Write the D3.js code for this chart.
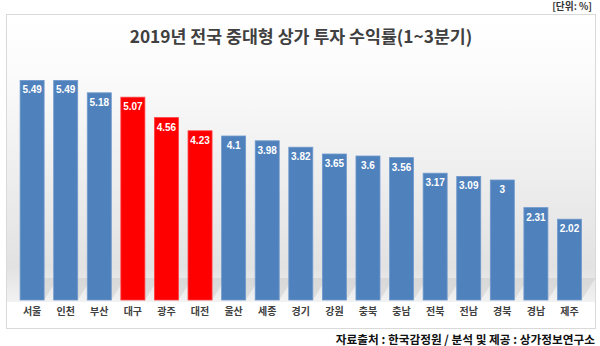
<!DOCTYPE html>
<html><head><meta charset="utf-8">
<script src="https://cdn.jsdelivr.net/npm/d3@7"></script>
<style>body{margin:0;background:#fff;}svg{display:block;font-family:"Noto Sans CJK KR","Noto Sans",sans-serif;}</style>
</head><body>
<svg id="c" width="600" height="346"></svg>
<script>
const categories = ["서울","인천","부산","대구","광주","대전","울산","세종","경기","강원","충북","충남","전북","전남","경북","경남","제주"];
const values = [5.49,5.49,5.18,5.07,4.56,4.23,4.1,3.98,3.82,3.65,3.6,3.56,3.17,3.09,3,2.31,2.02];
const highlighted = ["대구","광주","대전"];
const title = "2019년 전국 중대형 상가 투자 수익률(1~3분기)";
const unitLabel = "[단위: %]";
const sourceLabel = "자료출처 : 한국감정원 / 분석 및 제공 : 상가정보연구소";

const svg = d3.select("#c");
const defs = svg.append("defs");
const g1 = defs.append("linearGradient").attr("id","bg").attr("x1",0).attr("y1",0).attr("x2",0).attr("y2",1);
g1.append("stop").attr("offset","0%").attr("stop-color","#ffffff");
g1.append("stop").attr("offset","20%").attr("stop-color","#fbfbfb");
g1.append("stop").attr("offset","88%").attr("stop-color","#e2e2e2");
g1.append("stop").attr("offset","100%").attr("stop-color","#f2f2f2");

// panel
svg.append("rect").attr("x",6.5).attr("y",14.5).attr("width",589).attr("height",314)
  .attr("fill","#fff").attr("stroke","#d9d9d9");
svg.append("rect").attr("x",7).attr("y",15).attr("width",588).attr("height",287).attr("fill","url(#bg)");

const x = d3.scaleBand().domain(categories).range([15.3, 586.3]).paddingInner(0.285).paddingOuter(0.143);
const y = d3.scaleLinear().domain([0,6]).range([300,60]);

// shadows
svg.append("g").selectAll("path").data(values).join("path")
  .attr("d",(d,i)=>{const x0=x(categories[i]), w=x.bandwidth(), b=y(0);
     return `M${x0},${b} L${x0+w},${b} L${x0+w+14},${b-22} L${x0+14},${b-22} Z`;})
  .attr("fill","#bdbdbd").attr("opacity",0.35);

svg.append("g").selectAll("rect").data(values).join("rect")
  .attr("x",(d,i)=>x(categories[i])).attr("y",d=>y(d))
  .attr("width",x.bandwidth()).attr("height",d=>y(0)-y(d))
  .attr("fill",(d,i)=>highlighted.includes(categories[i])?"#ff0000":"#4f81bd")
  .attr("stroke",(d,i)=>highlighted.includes(categories[i])?"#ff4040":"#7099cc").attr("stroke-width",0.8);

svg.append("g").selectAll("text").data(values).join("text")
  .attr("x",(d,i)=>x(categories[i])+x.bandwidth()/2).attr("y",d=>y(d)+13)
  .attr("text-anchor","middle").attr("fill","#fff").attr("font-size",10).attr("font-weight","bold")
  .attr("font-family","Liberation Sans, Arial, sans-serif")
  .text(d=>d);

const xa = svg.append("g").attr("transform","translate(0,300)").call(d3.axisBottom(x).tickSize(0).tickPadding(8));
xa.select(".domain").remove();
xa.selectAll("text").attr("font-size",10).attr("font-weight","bold").attr("fill","#404040")
  .attr("font-family","Noto Sans CJK KR, sans-serif");

svg.append("text").attr("x",301).attr("y",43).attr("text-anchor","middle").attr("font-size",17.3)
  .attr("font-weight","bold").attr("fill","#404040").text(title);
svg.append("text").attr("x",592).attr("y",10).attr("text-anchor","end").attr("font-size",9.7)
  .attr("font-weight","bold").attr("fill","#333").text(unitLabel);
svg.append("text").attr("x",595).attr("y",344).attr("text-anchor","end").attr("font-size",11.7)
  .attr("font-weight","bold").attr("fill","#111").text(sourceLabel);
</script>
</body></html>
